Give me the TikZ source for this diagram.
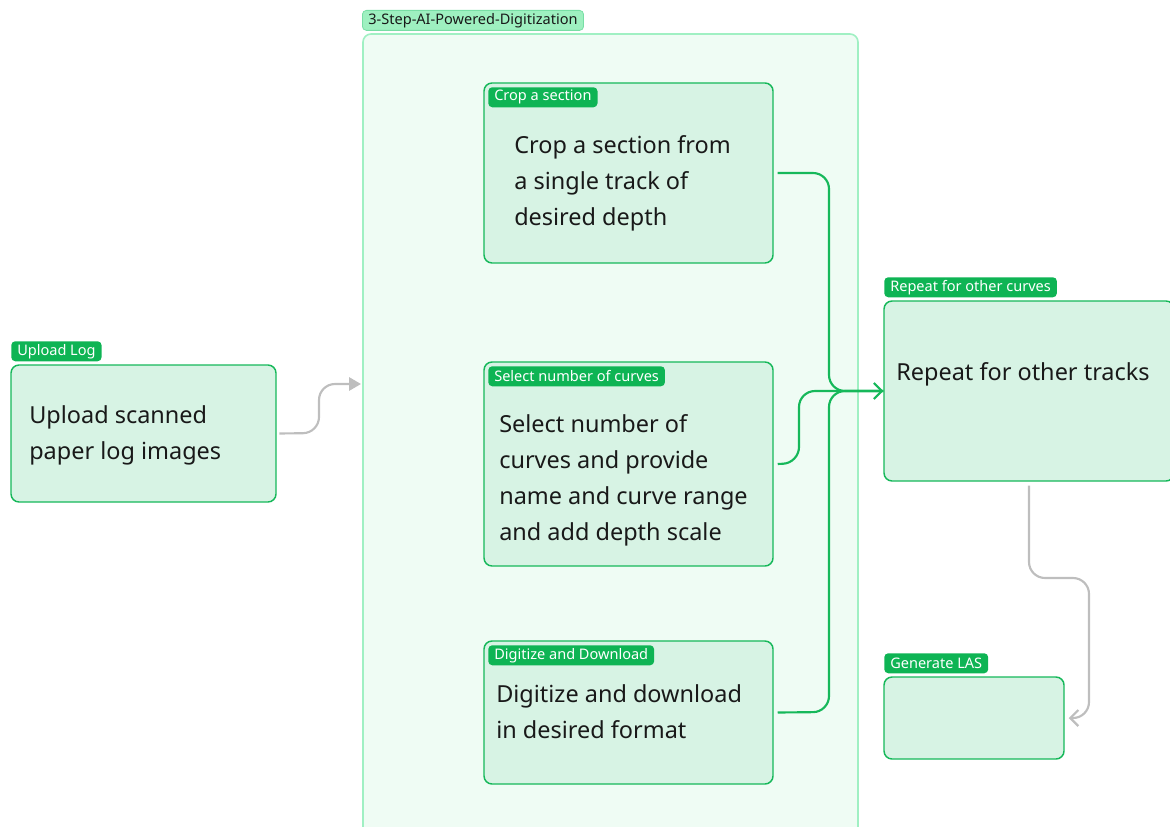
\documentclass[tikz,border=0pt]{standalone}
\usepackage{fontspec}
\setmainfont{Noto Sans}
\usetikzlibrary{arrows.meta,fit}
\definecolor{gline}{RGB}{22,184,90}
\definecolor{tagfill}{RGB}{14,180,84}
\definecolor{boxfill}{RGB}{215,243,228}
\definecolor{grpfill}{RGB}{239,252,244}
\definecolor{grpline}{RGB}{160,240,195}
\definecolor{grplab}{RGB}{158,240,192}
\definecolor{grplabline}{RGB}{120,222,165}
\definecolor{conngray}{RGB}{190,190,190}
\definecolor{txt}{RGB}{25,25,25}
\tikzset{
  grp/.style={draw=grpline, fill=grpfill, line width=1.2pt, rounded corners=6pt, inner sep=0pt},
  box/.style={draw=gline, fill=boxfill, line width=1.1pt, rounded corners=6pt, inner sep=0pt},
  tag/.style={fill=tagfill, text=white, rounded corners=3pt, inner xsep=4.5pt, inner ysep=0pt, minimum height=15pt, anchor=north west, font=\fontsize{10.9}{12}\selectfont},
  grptag/.style={draw=grplabline, fill=grplab, text=txt, rounded corners=3pt, inner xsep=4.5pt, inner ysep=0pt, minimum height=15pt, anchor=north west, font=\fontsize{10.9}{12}\selectfont, line width=0.6pt},
  body/.style={text=txt, anchor=north west, align=left, inner sep=0pt, font=\fontsize{17.6}{27}\selectfont},
  gconn/.style={draw=gline, line width=1.6pt, rounded corners=12pt},
  grayconn/.style={draw=conngray, line width=1.6pt, rounded corners=12pt},
}
\begin{document}
\begin{tikzpicture}[x=0.75pt,y=-0.75pt]
\useasboundingbox (0,0) rectangle (1170,827);
% container
\node[grp, fit={(363,34) (858,880)}] (group) {};
\node[grptag] (grouplab) at (362,10) {3-Step-AI-Powered-Digitization};
% boxes
\node[box, fit={(484,83) (773,263)}] (crop) {};
\node[tag] (croptag) at (488,87) {Crop a section};
\node[body] (croptext) at (514,135) {Crop a section from\\a single track of\\desired depth};

\node[box, fit={(484,362) (773,566)}] (select) {};
\node[tag] (selecttag) at (488,366) {Select number of curves};
\node[body] (selecttext) at (499,414) {Select number of\\curves and provide\\name and curve range\\and add depth scale};

\node[box, fit={(484,641) (773,784)}] (digit) {};
\node[tag] (digittag) at (488,645) {Digitize and Download};
\node[body] (digittext) at (496,684) {Digitize and download\\in desired format};

\node[box, fit={(11,365) (276,502)}] (upload) {};
\node[tag] (uploadtag) at (11,341) {Upload Log};
\node[body] (uploadtext) at (29,405) {Upload scanned\\paper log images};

\node[box, fit={(884,301) (1174,481)}] (repeat) {};
\node[tag] (repeattag) at (884,277) {Repeat for other curves};
\node[body] (repeattext) at (896,362) {Repeat for other tracks};

\node[box, fit={(884,677) (1064,759)}] (gen) {};
\node[tag] (gentag) at (884,653) {Generate LAS};

% connectors
\coordinate (gin) at (361,384);
\draw[grayconn, -{Triangle[length=9pt,width=10pt]}] ([xshift=2pt]upload.east) -- (319,433) -- (319,384) -- (gin);
\draw[gconn] ([xshift=3pt]crop.east) -- (829,173) -- (829,391) -- (repeat.west);
\draw[gconn] ([xshift=3pt]select.east) -- (799,463) -- (799,391) -- (repeat.west);
\draw[gconn, -{Straight Barb[length=6pt,width=12pt,line width=1.6pt]}] ([xshift=3pt]digit.east) -- (829,712) -- (829,391) -- (repeat.west);
\draw[grayconn, -{Straight Barb[length=6pt,width=12pt,line width=1.6pt]}] ([yshift=-3pt]repeat.south) -- (1029,578) -- (1089,578) -- (1089,718) -- ([xshift=3pt]gen.east);
\end{tikzpicture}
\end{document}
